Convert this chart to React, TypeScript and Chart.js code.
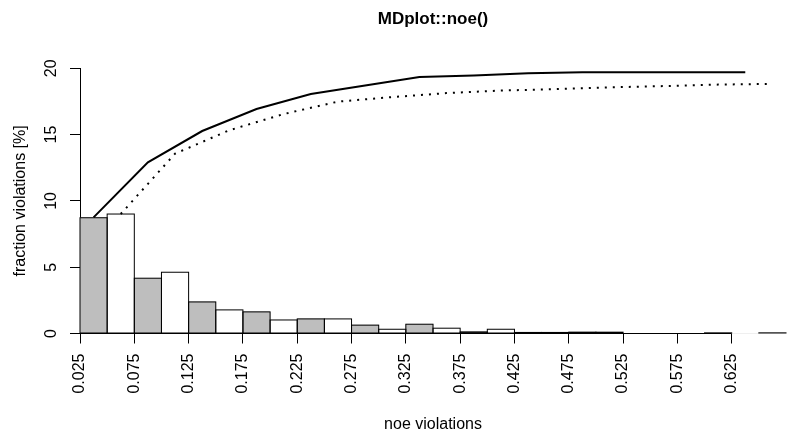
import React, { useEffect, useRef } from "react";
import { Chart, registerables } from "chart.js";

Chart.register(...registerables);

// ---------- data ----------
const binMids = [
  0.0375, 0.0625, 0.0875, 0.1125, 0.1375, 0.1625, 0.1875, 0.2125, 0.2375,
  0.2625, 0.2875, 0.3125, 0.3375, 0.3625, 0.3875, 0.4125, 0.4375, 0.4625,
  0.4875, 0.5125, 0.5375, 0.5625, 0.5875, 0.6125, 0.6375, 0.6625,
];
const fractions = [
  8.73, 9.01, 4.17, 4.62, 2.38, 1.78, 1.63, 1.02, 1.1, 1.1, 0.63, 0.32, 0.7,
  0.4, 0.12, 0.32, 0.08, 0.08, 0.1, 0.1, 0, 0, 0, 0.05, 0, 0.05,
];
const solidX = [
  0.0375, 0.0875, 0.1375, 0.1875, 0.2375, 0.2875, 0.3375, 0.3875, 0.4375,
  0.4875, 0.5375, 0.5875, 0.6375,
];
const solidY = [
  8.76, 12.91, 15.27, 16.93, 18.06, 18.7, 19.34, 19.45, 19.62, 19.71, 19.71,
  19.71, 19.71,
];
const dottedX = [
  0.0625, 0.1125, 0.1625, 0.2125, 0.2625, 0.3125, 0.3625, 0.4125, 0.4625,
  0.5125, 0.5625, 0.6125, 0.6625,
];
const dottedY = [
  9.01, 13.56, 15.33, 16.55, 17.49, 17.83, 18.13, 18.32, 18.43, 18.56, 18.66,
  18.77, 18.83,
];
const xTickValues = [
  0.025, 0.075, 0.125, 0.175, 0.225, 0.275, 0.325, 0.375, 0.425, 0.475, 0.525,
  0.575, 0.625,
];
const xTickLabels = [
  "0.025", "0.075", "0.125", "0.175", "0.225", "0.275", "0.325", "0.375",
  "0.425", "0.475", "0.525", "0.575", "0.625",
];
const yTickValues = [0, 5, 10, 15, 20];
const yTickLabels = ["0", "5", "10", "15", "20"];

const TITLE = "MDplot::noe()";
const X_TITLE = "noe violations";
const Y_TITLE = "fraction violations [%]";

// ---------- styles ----------
const FONT = '"Liberation Sans", Arial, Helvetica, sans-serif';
const GRAY = "#bebebe";
const WHITE = "#ffffff";

export default function App() {
  const ref = useRef<HTMLCanvasElement | null>(null);

  useEffect(() => {
    if (!ref.current) return;
    Chart.defaults.font.family = FONT;
    Chart.defaults.color = "#000";

    const BAR_INDEX = 2;

    const barOutline = {
      id: "barOutline",
      afterDatasetDraw(chart: any, args: any) {
        if (args.index !== BAR_INDEX) return;
        const ctx = chart.ctx;
        const meta = chart.getDatasetMeta(args.index);
        ctx.save();
        ctx.strokeStyle = "#000";
        ctx.lineWidth = 1;
        meta.data.forEach((el: any, i: number) => {
          if (!fractions[i]) return;
          const p = el.getProps(["x", "y", "base", "width"], true);
          ctx.strokeRect(p.x - p.width / 2, p.y, p.width, p.base - p.y);
        });
        ctx.restore();
      },
    };

    const axisExtras = {
      id: "axisExtras",
      afterDraw(chart: any) {
        const ctx = chart.ctx;
        const xs = chart.scales.x;
        const ys = chart.scales.y;
        const area = chart.chartArea;
        ctx.save();
        // x axis line spanning the tick range
        ctx.strokeStyle = "#000";
        ctx.lineWidth = 1;
        ctx.beginPath();
        const yb = Math.round(area.bottom) + 0.5 - 1;
        ctx.moveTo(xs.getPixelForValue(xTickValues[0]), yb);
        ctx.lineTo(xs.getPixelForValue(xTickValues[xTickValues.length - 1]), yb);
        ctx.stroke();
        // rotated y tick labels
        ctx.fillStyle = "#000";
        ctx.font = "16px " + FONT;
        ctx.textAlign = "center";
        ctx.textBaseline = "middle";
        yTickValues.forEach((v, i) => {
          const py = ys.getPixelForValue(v);
          ctx.save();
          ctx.translate(area.left - 28.7, py);
          ctx.rotate(-Math.PI / 2);
          ctx.fillText(yTickLabels[i], 0, 0);
          ctx.restore();
        });
        ctx.restore();
      },
    };

    const chart = new Chart(ref.current, {
      type: "bar",
      data: {
        datasets: [
          {
            type: "line",
            data: solidX.map((x, i) => ({ x, y: solidY[i] })),
            borderColor: "#000",
            borderWidth: 2,
            pointRadius: 0,
            tension: 0,
            fill: false,
          } as any,
          {
            type: "line",
            data: dottedX.map((x, i) => ({ x, y: dottedY[i] })),
            borderColor: "#000",
            borderWidth: 2,
            borderDash: [2, 6],
            borderCapStyle: "butt",
            pointRadius: 0,
            tension: 0,
            fill: false,
          } as any,
          {
            type: "bar",
            data: binMids.map((x, i) => ({ x, y: fractions[i] })),
            backgroundColor: binMids.map((_, i) => (i % 2 === 0 ? GRAY : WHITE)),
            borderWidth: 0,
            categoryPercentage: 1,
            barPercentage: 1,
          } as any,
        ],
      },
      options: {
        responsive: false,
        animation: false,
        devicePixelRatio: 1,
        layout: { padding: { left: 0, right: 14, top: 0, bottom: 0 } },
        plugins: {
          legend: { display: false },
          tooltip: { enabled: false },
          title: {
            display: true,
            text: TITLE,
            fullSize: false,
            color: "#000",
            font: { family: FONT, size: 17, weight: "bold" },
            padding: { top: 9.6, bottom: 38.3 },
          },
        },
        scales: {
          x: {
            type: "linear",
            min: 0.025,
            max: 0.675,
            offset: false,
            border: { display: false },
            grid: {
              display: true,
              offset: false,
              drawOnChartArea: false,
              drawTicks: true,
              tickLength: 10,
              color: "#000",
              lineWidth: 1,
            },
            afterBuildTicks: (s: any) => {
              s.ticks = xTickValues.map((v) => ({ value: v }));
            },
            afterFit: (s: any) => {
              s.height = 107.5;
            },
            ticks: {
              autoSkip: false,
              minRotation: 90,
              maxRotation: 90,
              padding: 10,
              color: "#000",
              font: { family: FONT, size: 16 },
              callback: (_v: any, i: number) => xTickLabels[i],
            },
            title: {
              display: true,
              text: X_TITLE,
              color: "#000",
              font: { family: FONT, size: 16 },
              padding: { top: 0, bottom: 6.4 },
            },
          },
          y: {
            type: "linear",
            min: 0,
            max: 20,
            border: { display: true, color: "#000", width: 1 },
            grid: {
              display: true,
              drawOnChartArea: false,
              drawTicks: true,
              tickLength: 10,
              color: "#000",
              lineWidth: 1,
            },
            afterBuildTicks: (s: any) => {
              s.ticks = yTickValues.map((v) => ({ value: v }));
            },
            afterFit: (s: any) => {
              s.width = 80;
            },
            ticks: { display: false },
            title: {
              display: true,
              text: Y_TITLE,
              color: "#000",
              font: { family: FONT, size: 16 },
              padding: { top: 11.4, bottom: 0 },
            },
          },
        },
      } as any,
      plugins: [barOutline, axisExtras],
    });
    return () => chart.destroy();
  }, []);

  return (
    <div
      style={{
        position: "fixed",
        left: 0,
        top: 0,
        width: 800,
        height: 441,
        background: "#fff",
      }}
    >
      <canvas ref={ref} width={800} height={441} />
    </div>
  );
}
